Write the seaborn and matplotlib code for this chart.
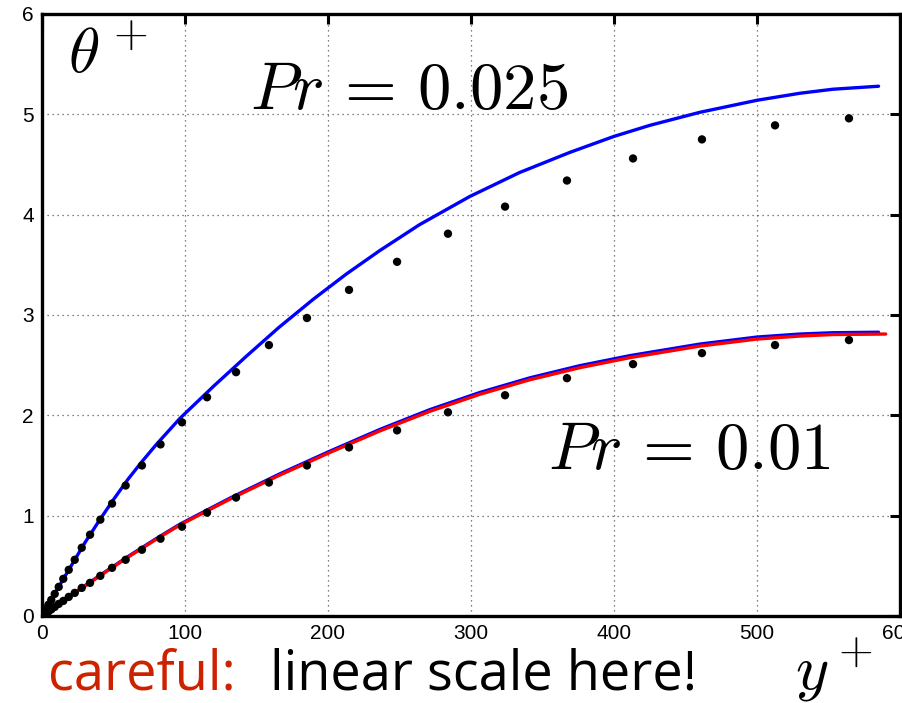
import numpy as np
import pandas as pd
import matplotlib
matplotlib.use("Agg")
import matplotlib.pyplot as plt
import seaborn as sns


# ── Data ──────────────────────────────────────────────────────────────────────

# DNS points: wall distance y+ (same grid for both Prandtl numbers)
dns_yplus = [0, 0.6, 1.6, 2.9, 4.5, 6.5, 8.9, 11.7, 14.9, 18.7, 22.9, 27.8,
             33.6, 40.8, 49.0, 58.5, 69.9, 82.9, 97.9, 115.4, 135.7, 158.7,
             185.3, 214.7, 248.3, 283.9, 323.8, 367.1, 413.3, 461.5, 512.6,
             564.3]
dns_theta_025 = [0, 0.015, 0.04, 0.072, 0.112, 0.16, 0.22, 0.29, 0.37, 0.46,
                 0.56, 0.68, 0.81, 0.96, 1.12, 1.30, 1.50, 1.71, 1.93, 2.18,
                 2.43, 2.70, 2.97, 3.25, 3.53, 3.81, 4.08, 4.34, 4.56, 4.75,
                 4.89, 4.96]
dns_theta_001 = [0, 0.006, 0.016, 0.029, 0.045, 0.065, 0.09, 0.12, 0.15,
                 0.19, 0.23, 0.28, 0.33, 0.40, 0.48, 0.56, 0.66, 0.77, 0.89,
                 1.03, 1.18, 1.33, 1.50, 1.68, 1.85, 2.03, 2.20, 2.37, 2.51,
                 2.62, 2.70, 2.75]

# model curve, Pr = 0.025 (blue)
model_yplus_025 = [0, 10, 20, 30, 40, 50, 60, 70, 80, 96.5, 120, 143, 166,
                   190, 213, 236, 264, 299, 334, 369, 400, 425, 460, 500,
                   530, 553, 585]
model_theta_025 = [0, 0.25, 0.49, 0.73, 0.95, 1.16, 1.36, 1.54, 1.71, 1.97,
                   2.29, 2.59, 2.88, 3.16, 3.41, 3.64, 3.90, 4.18, 4.42,
                   4.62, 4.78, 4.89, 5.02, 5.14, 5.21, 5.25, 5.28]

# model curves, Pr = 0.01 (blue and red almost on top of each other)
model_yplus_001 = [0, 20, 40, 60, 80, 96.5, 131.5, 166.4, 201.4, 236.4,
                   271.3, 306.3, 341.3, 376.2, 411.2, 460, 500, 530, 553,
                   585]
model_theta_001_blue = [0, 0.203, 0.40, 0.591, 0.772, 0.915, 1.175, 1.417,
                        1.643, 1.860, 2.057, 2.228, 2.374, 2.495, 2.595,
                        2.710, 2.780, 2.810, 2.823, 2.828]
red_yplus_001 = [0, 20, 40, 60, 80, 96.5, 131.5, 166.4, 201.4, 236.4, 271.3,
                 306.3, 341.3, 376.2, 411.2, 460, 500, 530, 553, 590]
red_theta_001 = [0, 0.20, 0.395, 0.585, 0.765, 0.907, 1.165, 1.405, 1.630,
                 1.845, 2.04, 2.21, 2.355, 2.475, 2.575, 2.69, 2.76, 2.79,
                 2.805, 2.81]

x_ticks = [0, 100, 200, 300, 400, 500, 600]
y_ticks = [0, 1, 2, 3, 4, 5, 6]


# ── Plot ──────────────────────────────────────────────────────────────────────

sns.set_style("white")
plt.rcParams["font.family"] = ["Liberation Sans", "DejaVu Sans"]
plt.rcParams["mathtext.fontset"] = "cm"
plt.rcParams["text.color"] = "black"

fig = plt.figure(figsize=(9.03, 7.03), dpi=100)
ax = fig.add_axes([0.0465, 0.1238, 0.9502, 0.8563])

dns = pd.DataFrame({"yplus": dns_yplus * 2,
                    "theta": dns_theta_025 + dns_theta_001})

sns.lineplot(x=model_yplus_025, y=model_theta_025, ax=ax,
             color="#0000ff", lw=2.4, sort=False, zorder=3)
sns.lineplot(x=model_yplus_001, y=model_theta_001_blue, ax=ax,
             color="#0000ff", lw=2.4, sort=False, zorder=3)
sns.lineplot(x=red_yplus_001, y=red_theta_001, ax=ax,
             color="#ff0000", lw=2.4, sort=False, zorder=4)
sns.scatterplot(data=dns, x="yplus", y="theta", ax=ax, color="black",
                s=36, edgecolor="none", zorder=5)

ax.set_xlim(0, 600)
ax.set_ylim(0, 6)
ax.set_xticks(x_ticks)
ax.set_yticks(y_ticks)
ax.set_xlabel("")
ax.set_ylabel("")

ax.grid(True, linestyle=(0, (1, 3)), color="0.35", lw=0.9)
ax.tick_params(direction="in", top=True, right=True, length=7, width=2.2,
               labelsize=15, pad=6, colors="black")
for side in ax.spines.values():
    side.set_linewidth(2.4)
    side.set_color("black")

ax.text(18, 5.58, r"$\theta^+$", fontsize=46, ha="left", va="center",
        color="black")
ax.text(257, 5.05, r"$Pr\,=\,0.025$", fontsize=48, ha="center",
        va="baseline", color="black")
ax.text(453, 1.46, r"$Pr\,=\,0.01$", fontsize=48, ha="center",
        va="baseline", color="black")

fig.text(0.880, 0.047, r"$y^+$", fontsize=46, ha="left", va="center",
         color="black")
fig.text(48 / 903, 0.0, "careful:", fontsize=39, color="#cc2200",
         family=["Open Sans", "DejaVu Sans"], ha="left", va="bottom")
fig.text(270 / 903, 0.0, "linear scale here!", fontsize=39, color="black",
         family=["Open Sans", "DejaVu Sans"], ha="left", va="bottom")

fig.savefig("out.png", dpi=100)
